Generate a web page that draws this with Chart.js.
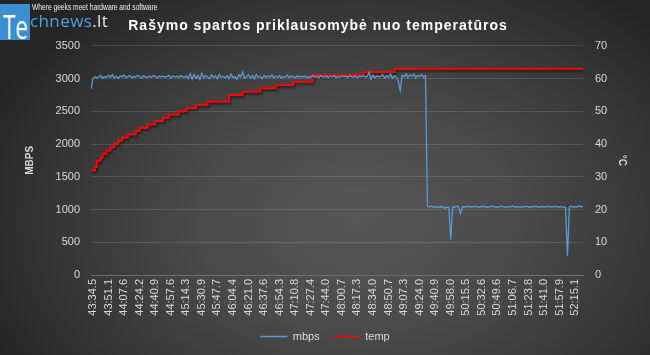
<!DOCTYPE html>
<html>
<head>
<meta charset="utf-8">
<script src="https://cdn.jsdelivr.net/npm/chart.js@4.4.0/dist/chart.umd.min.js"></script>
<style>
html, body { margin: 0; padding: 0; }
body {
  width: 650px; height: 355px; overflow: hidden; position: relative;
  background: radial-gradient(ellipse 62% 80% at 55% 62%, #575757 0%, #4a4a4a 40%, #363636 75%, #252525 100%);
  font-family: "Open Sans", "Liberation Sans", sans-serif;
}
#graph { position: absolute; left: 0; top: 0; }
.logo-box { position: absolute; left: 0; top: 4px; width: 30px; height: 36px; background: #3b8ed0; overflow: hidden; }
.logo-te { position: absolute; left: 3px; top: 0px; font-size: 33px; color: #fff; transform: scaleX(0.68); transform-origin: left top; }
.logo-rest { position: absolute; left: 30px; top: 9px; font-size: 17px; color: #4aa3df; letter-spacing: 0.4px; }
.logo-rest span { color: #e6e6e6; }
.logo-tag { position: absolute; left: 32px; top: 2px; font-size: 9px; color: #f0f0f0; transform: scaleX(0.74); transform-origin: left top; white-space: nowrap; font-family: "Liberation Sans", sans-serif; }
</style>
</head>
<body>
<canvas id="graph" width="650" height="355"></canvas>
<div class="logo-box"><div class="logo-te">Te</div></div>
<div class="logo-rest">chnews<span>.lt</span></div>
<div class="logo-tag">Where geeks meet hardware and software</div>
<script>
// x tick labels (every 8th sample)
var tickLabels = ['43:34.5','43:51.1','44:07.6','44:24.2','44:40.9','44:57.6','45:14.3','45:30.9',
  '45:47.7','46:04.4','46:21.0','46:37.6','46:54.3','47:10.8','47:27.4','47:44.0',
  '48:00.7','48:17.3','48:34.0','48:50.7','49:07.3','49:24.0','49:40.9','49:58.0',
  '50:15.5','50:32.6','50:49.6','51:06.7','51:23.8','51:41.0','51:57.9','52:15.1'];

// write speed, MB/s
var mbps = [
  2840,3000,3030,3010,3025,3045,3005,3030,3015,3050,
  3020,3060,3010,3035,3000,3040,3025,3055,3015,3030,
  3045,3010,3030,3020,3050,3035,3005,3040,3025,3015,
  3035,3020,3045,3030,3010,3040,3025,3035,3020,3030,
  3050,3010,3040,3025,3035,3015,3045,3030,3020,3040,
  3000,3075,2990,3060,3005,3050,2985,3080,3010,3045,
  3025,3000,3055,3015,3040,2995,3060,3020,3035,3010,
  3045,3000,3070,3015,3030,2990,3055,3025,3100,3005,
  3030,3060,3010,3045,2995,3065,3020,3035,3000,3050,
  3015,3040,3025,3055,3010,3035,3020,3045,3005,3030,
  3025,3050,3015,3040,3030,3010,3045,3020,3035,3025,
  3040,3015,3030,3020,3050,3025,3035,3010,3045,3030,
  3020,3040,3015,3035,3025,3045,3010,3030,3020,3040,
  3025,3035,3015,3045,3030,3020,3040,3010,3035,3025,
  3045,3020,3030,3095,2990,3050,3015,3040,3025,3035,
  3060,3010,3045,3020,3070,3005,3040,3025,2960,2820,
  3050,3030,3070,3015,3055,3035,3065,3010,3050,3030,
  3060,3020,3045,
  1045,1040,1050,1035,1045,1040,1030,1045,1035,1020,
  1040,1030,540,1045,1035,1050,1040,940,1045,1035,
  1050,1040,1045,1035,1050,1040,1045,1030,1050,1040,
  1045,1035,1040,1050,1040,1045,1035,1040,1050,1040,
  1035,1045,1040,1040,1050,1035,1045,1040,1030,1045,
  1040,1050,1035,1045,1040,1040,1050,1035,1045,1040,
  1045,1035,1050,1040,1045,1040,1050,1035,1045,1040,
  1035,1030,295,1040,1050,1035,1045,1040,1055,1040,1050
];

// temperature, stepped: sample index where a new reading starts, and its value
var tempStart = [0,2,3,5,6,8,10,12,14,16,19,23,25,29,33,37,40,45,49,54,60,71,78,87,95,104,114,140,156,253];
var tempValue = [32,33,35,36,37,38,39,40,41,42,43,44,45,46,47,48,49,50,51,52,53,55,56,57,58,59,61,62,63,63];

var tickPos = tickLabels.map(function (t, i) { return 1 + i * 8; });

var txt = '#d9d9d9';

var shadow = {
  id: 'shadow',
  beforeDatasetDraw: function (chart, args) {
    if (args.index === 1) {
      var c = chart.ctx;
      c.save();
      c.shadowColor = 'rgba(0,0,0,0.5)';
      c.shadowBlur = 2;
      c.shadowOffsetX = 1;
      c.shadowOffsetY = 2;
    }
  },
  afterDatasetDraw: function (chart, args) {
    if (args.index === 1) chart.ctx.restore();
  }
};

// wider letter spacing on the title, like the original
var spacedTitle = {
  id: 'spacedTitle',
  afterLayout: function (chart) {
    var tb = chart.titleBlock;
    if (tb && !tb._spaced) {
      var draw = tb.draw;
      tb.draw = function () {
        var c = chart.ctx;
        c.save();
        c.letterSpacing = '1px';
        c.translate(-7, 2);
        draw.apply(tb, arguments);
        c.restore();
      };
      tb._spaced = true;
    }
  }
};

var context = document.getElementById('graph').getContext('2d');
var chart = new Chart(context, {
  type: 'line',
  data: {
    datasets: [
      {
        label: 'mbps',
        data: mbps.map(function (v, i) { return { x: i, y: v }; }),
        borderColor: '#5b9bd5',
        backgroundColor: '#5b9bd5',
        borderWidth: 1.3,
        pointRadius: 0,
        order: 0,
        yAxisID: 'y'
      },
      {
        label: 'temp',
        data: tempStart.map(function (s, i) { return { x: s, y: tempValue[i] }; }),
        borderColor: '#ff0000',
        backgroundColor: '#ff0000',
        borderWidth: 2,
        pointRadius: 0,
        stepped: true,
        order: 1,
        yAxisID: 'y2'
      }
    ]
  },
  options: {
    responsive: false,
    animation: false,
    layout: { padding: { left: 0, right: 0, top: 0, bottom: 3 } },
    plugins: {
      tooltip: { enabled: false },
      title: {
        display: true,
        text: 'Rašymo spartos priklausomybė nuo temperatūros',
        color: '#ffffff',
        font: { family: 'Liberation Sans', size: 14, weight: 'bold' },
        padding: { top: 16, bottom: 13 }
      },
      legend: {
        position: 'bottom',
        labels: {
          color: txt,
          font: { family: 'Liberation Sans', size: 11 },
          usePointStyle: true,
          pointStyle: 'line',
          pointStyleWidth: 27,
          boxHeight: 12,
          padding: 13,
          generateLabels: function (c) {
            var items = Chart.defaults.plugins.legend.labels.generateLabels(c);
            items.forEach(function (it) { it.lineWidth = 1.5; });
            return items;
          }
        }
      }
    },
    scales: {
      x: {
        type: 'linear',
        min: 0,
        max: mbps.length - 1,
        afterBuildTicks: function (scale) {
          scale.ticks = tickPos.map(function (p) { return { value: p }; });
        },
        afterFit: function (scale) { scale.height = 43; },
        ticks: {
          autoSkip: false,
          minRotation: 90,
          maxRotation: 90,
          padding: 4,
          color: txt,
          font: { family: 'Liberation Sans', size: 11 },
          callback: function (v, i) { return tickLabels[i]; }
        },
        grid: { display: false, drawTicks: false },
        border: { display: true, color: '#6e6e6e', width: 1 }
      },
      y: {
        position: 'left',
        min: 0,
        max: 3500,
        afterFit: function (scale) { scale.width = 91; },
        ticks: {
          stepSize: 500,
          padding: 11,
          color: txt,
          font: { family: 'Liberation Sans', size: 11 },
          callback: function (v) { return String(v); }
        },
        grid: { color: 'rgba(255,255,255,0.13)', drawTicks: false },
        border: { display: false },
        title: {
          display: true,
          text: 'MBPS',
          color: txt,
          font: { family: 'Liberation Sans', size: 10, weight: 'bold' },
          padding: { top: 24, bottom: 0 }
        }
      },
      y2: {
        position: 'right',
        min: 0,
        max: 70,
        afterFit: function (scale) { scale.width = 67; },
        ticks: {
          stepSize: 10,
          padding: 12,
          color: txt,
          font: { family: 'Liberation Sans', size: 11 },
          callback: function (v) { return String(v); }
        },
        grid: { display: false, drawTicks: false },
        border: { display: false },
        title: {
          display: true,
          text: '°C',
          color: txt,
          font: { family: 'Liberation Sans', size: 10, weight: 'bold' },
          padding: { top: 22, bottom: 0 }
        }
      }
    }
  },
  plugins: [shadow, spacedTitle]
});
</script>
</body>
</html>
